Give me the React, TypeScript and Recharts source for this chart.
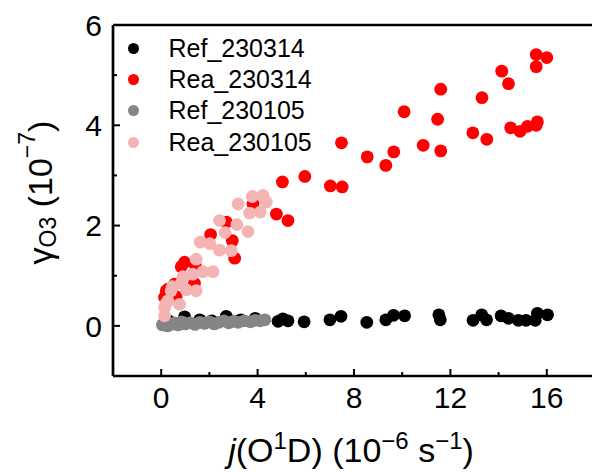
import React from 'react';
import { ScatterChart, Scatter, XAxis, YAxis, ReferenceLine, Legend } from 'recharts';

const ref230314: [number, number][] = [
  [0.3, 0.1], [0.97, 0.18], [1.6, 0.12], [2.1, 0.1], [2.7, 0.19], [3.3, 0.12], [3.9, 0.15],
  [4.85, 0.09], [5.05, 0.14], [5.26, 0.1], [5.93, 0.08], [7.0, 0.12], [7.46, 0.19], [8.53, 0.07],
  [9.32, 0.12], [9.64, 0.21], [10.1, 0.2], [11.52, 0.22], [11.58, 0.12], [12.94, 0.11], [13.3, 0.22],
  [13.5, 0.12], [14.1, 0.2], [14.41, 0.15], [14.82, 0.11], [15.14, 0.11], [15.52, 0.11], [15.61, 0.25],
  [16.03, 0.22],
];

const rea230314: [number, number][] = [
  [0.14, 0.57], [0.21, 0.7], [0.28, 0.73], [0.55, 0.83], [0.62, 0.58], [0.83, 1.18], [0.97, 1.27],
  [1.38, 0.85], [1.42, 1.2], [2.05, 1.82], [2.7, 2.07], [2.95, 1.7], [3.05, 1.35], [3.81, 2.43],
  [4.78, 2.23], [5.03, 2.87], [5.26, 2.1], [5.96, 2.98], [7.02, 2.79], [7.51, 2.77], [7.48, 3.65],
  [8.55, 3.37], [9.32, 3.2], [9.65, 3.47], [10.08, 4.27], [10.87, 3.6], [11.47, 4.12], [11.6, 4.72],
  [11.6, 3.49], [12.93, 3.85], [13.31, 4.55], [13.51, 3.72], [14.13, 5.08], [14.41, 4.83], [14.5, 3.95],
  [14.89, 3.88], [15.2, 3.98], [15.56, 4.0], [15.61, 4.07], [15.56, 5.41], [15.56, 5.17], [16.0, 5.35],
];

const ref230105: [number, number][] = [
  [0.05, 0.02], [0.15, 0.05], [0.25, 0.0], [0.4, 0.03], [0.55, 0.06], [0.7, 0.02], [0.85, 0.08],
  [1.0, 0.04], [1.2, 0.06], [1.4, 0.03], [1.6, 0.07], [1.8, 0.05], [2.0, 0.08], [2.2, 0.04],
  [2.4, 0.07], [2.6, 0.1], [2.8, 0.06], [3.0, 0.09], [3.2, 0.07], [3.45, 0.1], [3.7, 0.08],
  [3.9, 0.11], [4.1, 0.1], [4.3, 0.12],
];

const rea230105: [number, number][] = [
  [0.14, 0.2], [0.14, 0.37], [0.21, 0.45], [0.28, 0.5], [0.46, 0.78], [0.41, 0.7], [0.76, 0.43],
  [0.83, 0.85], [0.9, 0.98], [1.04, 0.72], [1.45, 0.7], [1.31, 1.03], [1.73, 1.08], [2.15, 1.08],
  [1.45, 1.33], [1.62, 1.67], [2.02, 1.64], [2.42, 1.51], [2.91, 1.5], [2.42, 2.1], [2.65, 1.86],
  [3.14, 2.02], [3.6, 1.88], [3.19, 2.43], [3.67, 2.25], [3.78, 2.58], [4.22, 2.6], [4.36, 2.47],
  [4.11, 2.27],
];

const seriesNames = ['Ref_230314', 'Rea_230314', 'Ref_230105', 'Rea_230105'];
const seriesColors = ['#000000', '#ff0000', '#858585', '#f4b4b4'];

const xTicks = [0, 2, 4, 6, 8, 10, 12, 14, 16];
const xMajor = [0, 4, 8, 12, 16];
const yTicks = [0, 1, 2, 3, 4, 5, 6];
const yMajor = [0, 2, 4, 6];

const FONT = '"Liberation Sans", Arial, sans-serif';
const TICK_FONT = 30;
const TICK_MARGIN = 11;

const toPts = (arr: [number, number][]) => arr.map(([x, y]) => ({ x, y }));

const XTick = (props: any) => {
  const { x, y, payload } = props;
  const major = xMajor.includes(payload.value);
  const axisY = y - TICK_MARGIN;
  return (
    <g>
      <line x1={x} x2={x} y1={axisY} y2={axisY - (major ? 7 : 4)} stroke="#000" strokeWidth={2} />
      {major && (
        <text x={x} y={y} dy="0.71em" textAnchor="middle" fontSize={TICK_FONT} fontFamily={FONT} fill="#000">
          {payload.value}
        </text>
      )}
    </g>
  );
};

const YTick = (props: any) => {
  const { x, y, payload } = props;
  const major = yMajor.includes(payload.value);
  const axisX = x + TICK_MARGIN;
  return (
    <g>
      <line x1={axisX} x2={axisX + (major ? 7 : 4)} y1={y} y2={y} stroke="#000" strokeWidth={2} />
      {major && (
        <text x={x} y={y} dy="0.355em" textAnchor="end" fontSize={TICK_FONT} fontFamily={FONT} fill="#000">
          {payload.value}
        </text>
      )}
    </g>
  );
};

const XTitle = (props: any) => {
  const { viewBox } = props;
  const cx = viewBox.x + viewBox.width / 2 - 3;
  const cy = viewBox.y + 86;
  return (
    <text x={cx} y={cy} textAnchor="middle" fontSize={34} fontFamily={FONT} fill="#000">
      <tspan fontStyle="italic">j</tspan>
      <tspan>(O</tspan>
      <tspan dy={-13} fontSize={24}>1</tspan>
      <tspan dy={13}>D) (10</tspan>
      <tspan dy={-13} fontSize={24}>−6</tspan>
      <tspan dy={13}>{' s'}</tspan>
      <tspan dy={-13} fontSize={24}>−1</tspan>
      <tspan dy={13}>)</tspan>
    </text>
  );
};

const YTitle = (props: any) => {
  const { viewBox } = props;
  const cx = 40;
  const cy = viewBox.y + viewBox.height / 2 - 8;
  return (
    <text
      x={cx}
      y={cy}
      transform={`rotate(-90, ${cx}, ${cy})`}
      textAnchor="middle"
      dominantBaseline="central"
      fontSize={34}
      fontFamily={FONT}
      fill="#000"
    >
      <tspan>γ</tspan>
      <tspan dy={8} fontSize={23}>O3</tspan>
      <tspan dy={-8}>{' (10'}</tspan>
      <tspan dy={-13} fontSize={23}>−7</tspan>
      <tspan dy={13}>)</tspan>
    </text>
  );
};

const LegendContent = (props: any) => {
  const { payload } = props;
  const items = [...(payload || [])].sort(
    (a: any, b: any) => seriesNames.indexOf(a.value) - seriesNames.indexOf(b.value)
  );
  return (
    <div>
      {items.map((e: any) => (
        <div key={e.value} style={{ display: 'flex', alignItems: 'center', height: 31.3 }}>
          <span
            style={{
              display: 'inline-block',
              width: 11,
              height: 11,
              borderRadius: '50%',
              background: e.color,
              marginRight: 29.5,
            }}
          />
          <span style={{ fontSize: 25, fontFamily: FONT, lineHeight: 1, color: '#000' }}>{e.value}</span>
        </div>
      ))}
    </div>
  );
};

const dot = (color: string) => (p: any) => <circle cx={p.cx} cy={p.cy} r={6.4} fill={color} />;

const seriesData = [ref230314, rea230314, ref230105, rea230105];

export default function App() {
  return (
    <div style={{ position: 'absolute', left: 0, top: 0, width: 592, height: 472, overflow: 'hidden', background: '#fff' }}>
      <ScatterChart width={600} height={472} margin={{ top: 25, right: 5, bottom: 0, left: 0 }}>
        <XAxis
          type="number"
          dataKey="x"
          domain={[-2, 18]}
          ticks={xTicks}
          interval={0}
          height={96}
          tickSize={0}
          tickMargin={TICK_MARGIN}
          tick={<XTick />}
          tickLine={false}
          axisLine={{ stroke: '#000', strokeWidth: 2.7 }}
          allowDataOverflow
          label={<XTitle />}
        />
        <YAxis
          type="number"
          dataKey="y"
          domain={[-1, 6]}
          ticks={yTicks}
          interval={0}
          width={113}
          tickSize={0}
          tickMargin={TICK_MARGIN}
          tick={<YTick />}
          tickLine={false}
          axisLine={{ stroke: '#000', strokeWidth: 2.7 }}
          allowDataOverflow
          label={<YTitle />}
        />
        <ReferenceLine y={6} stroke="#000" strokeWidth={2.7} />
        <ReferenceLine x={18} stroke="#000" strokeWidth={2.7} />
        <Legend
          layout="horizontal"
          verticalAlign="middle"
          align="center"
          content={<LegendContent />}
          wrapperStyle={{ position: 'absolute', top: 32.6, left: 128, width: 'auto', height: 'auto' }}
        />
        {seriesData.map((arr, i) => (
          <Scatter
            key={seriesNames[i]}
            name={seriesNames[i]}
            data={toPts(arr)}
            fill={seriesColors[i]}
            shape={dot(seriesColors[i])}
            isAnimationActive={false}
          />
        ))}
      </ScatterChart>
    </div>
  );
}
